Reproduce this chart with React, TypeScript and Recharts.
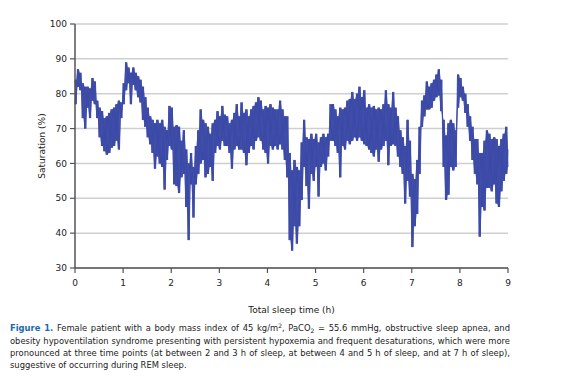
import React from 'react';
import { ComposedChart, Area, Line, XAxis, YAxis, CartesianGrid } from 'recharts';

// SpO2 trace: upper and lower edge of the noisy band every 0.05 h
const STEP = 0.05;

const SAT_HIGH = [
  // 0 h
  84, 87, 86, 83, 82, 82, 81.5, 84.5, 83.5, 78, 76, 75, 73, 73.5, 74.5, 75.5, 76, 77, 78, 77.5,
  // 1 h
  83, 89, 87.5, 86, 87.5, 86, 85, 84, 82, 79, 76, 73.5, 72.5, 71.5, 72.5, 71.5, 72.5, 70.5, 69.5, 76.5,
  // 2 h
  76, 70.5, 71, 70.5, 66.5, 69.5, 64, 60, 63, 59, 65, 69.5, 75.5, 72.5, 71.5, 70.5, 68.5, 71.5, 72.5, 75,
  // 3 h
  73.5, 76.5, 74, 73.5, 71.5, 72.5, 74.5, 77, 73.5, 77.5, 74.5, 75.5, 73.5, 75.5, 76.5, 77.5, 79, 78, 75.5, 76.5,
  // 4 h
  76, 77, 76, 75.5, 75.5, 78, 75.5, 73.5, 73.5, 63, 58, 61, 59, 58, 66, 72.5, 67.5, 67, 68.5, 67,
  // 5 h
  68.5, 66, 67.5, 68.5, 67.5, 68.5, 77, 77, 75.5, 73.5, 76, 75.5, 76, 78, 78.5, 80.5, 78.5, 80, 82, 79,
  // 6 h
  81, 76, 77, 76, 76.5, 75.5, 76, 75.5, 77, 81, 77, 76, 80.5, 76, 73.5, 69.5, 67.5, 65, 72.5, 66.5,
  // 7 h
  57, 55.5, 61, 70.5, 78, 79.5, 83.5, 82, 83, 84, 85.5, 87, 84, 72.5, 68, 71.5, 72.5, 71.5, 69.5, 85.5,
  // 8 h
  84.5, 82, 80, 77, 73.5, 70.5, 67, 67, 63, 63, 66.5, 69.5, 68.5, 67, 67.5, 67, 65, 67, 68.5, 70.5,
  // 9 h
  64,
];

const SAT_LOW = [
  // 0 h
  77, 82, 81, 73, 70, 76, 73, 78, 77, 73, 67.5, 65, 63.5, 62.5, 63, 64.5, 65, 66.5, 64, 73,
  // 1 h
  77, 81, 83, 77, 82.5, 81, 79, 77.5, 72.5, 70.5, 67.5, 65.5, 63, 58.5, 62, 60, 59, 52.5, 61, 65,
  // 2 h
  64, 54, 53.5, 51.5, 56, 57, 47.5, 38, 54, 44.5, 54, 57, 60, 61, 56, 57, 59, 55, 63, 65,
  // 3 h
  64, 66.5, 65, 65, 63, 58.5, 64, 65, 64, 64, 63, 59.5, 63, 65, 64, 66.5, 67.5, 66.5, 64, 63,
  // 4 h
  60, 65, 64, 65, 64, 65.5, 64, 61, 56, 38, 35, 42, 37, 42, 49.5, 59, 53.5, 47, 57, 55,
  // 5 h
  59, 50.5, 59, 60, 58, 62, 66.5, 66.5, 65, 63, 56, 65, 64, 66.5, 65.5, 66.5, 67.5, 66.5, 67.5, 66.5,
  // 6 h
  65.5, 65, 64, 63, 62, 64, 60.5, 64, 65, 66.5, 59.5, 65, 65.5, 65, 62, 59, 57, 48.5, 55, 50.5,
  // 7 h
  36, 42, 45.5, 57, 70.5, 73.5, 75.5, 75.5, 76, 78, 79, 79.5, 75, 59, 49.5, 51, 59, 58, 59, 76,
  // 8 h
  79, 78, 74.5, 70.5, 66.5, 61, 57, 54, 39, 47.5, 46.5, 53, 53, 52, 54, 48.5, 47.5, 52, 55, 57,
  // 9 h
  59,
];

const X_TICKS = [0, 1, 2, 3, 4, 5, 6, 7, 8, 9];
const Y_TICKS = [30, 40, 50, 60, 70, 80, 90, 100];

// two zig-zags in opposite phase between the upper and lower edge, over a filled band
const chartData = SAT_HIGH.flatMap((hi, i) => [
  { t: i * STEP, a: hi, b: SAT_LOW[i], band: [SAT_LOW[i], hi] },
  { t: i * STEP + STEP / 2, a: SAT_LOW[i], b: hi, band: [SAT_LOW[i], hi] },
]).filter((d) => d.t <= 9);

const FONT = '"DejaVu Sans", Verdana, sans-serif';
const tickStyle = { fontSize: 9, fill: '#222', fontFamily: FONT };
const TRACE = '#3a48a6';

const captionLine = {
  width: 500,
  textAlign: 'justify' as const,
  textAlignLast: 'justify' as const,
};

export default function App() {
  return (
    <div
      style={{
        position: 'absolute',
        left: 0,
        top: 0,
        width: 567,
        height: 379,
        background: '#fff',
        fontFamily: FONT,
        overflow: 'hidden',
      }}
    >
      <ComposedChart
        width={567}
        height={292}
        data={chartData}
        margin={{ top: 24, right: 59, bottom: 0, left: 0 }}
      >
        <CartesianGrid horizontal vertical={false} stroke="#cfcfcf" strokeWidth={1.5} />
        <XAxis
          dataKey="t"
          type="number"
          domain={[0, 9]}
          ticks={X_TICKS}
          interval={0}
          allowDecimals={false}
          height={24}
          tickSize={5}
          tickMargin={7}
          tick={tickStyle}
          axisLine={{ stroke: '#555', strokeWidth: 1.5 }}
          tickLine={{ stroke: '#555', strokeWidth: 1.2 }}
        />
        <YAxis
          type="number"
          domain={[30, 100]}
          ticks={Y_TICKS}
          interval={0}
          width={75}
          tickSize={5}
          tickMargin={3}
          tick={tickStyle}
          axisLine={{ stroke: '#555', strokeWidth: 1.5 }}
          tickLine={{ stroke: '#555', strokeWidth: 1.2 }}
          label={{
            value: 'Saturation (%)',
            angle: -90,
            position: 'insideLeft',
            offset: 42,
            style: { fontSize: 9, fill: '#222', fontFamily: FONT, textAnchor: 'middle' },
          }}
        />
        <Area
          type="linear"
          dataKey="band"
          stroke="none"
          fill={TRACE}
          fillOpacity={0.8}
          isAnimationActive={false}
        />
        <Line
          type="linear"
          dataKey="a"
          stroke={TRACE}
          strokeWidth={0.9}
          dot={false}
          isAnimationActive={false}
        />
        <Line
          type="linear"
          dataKey="b"
          stroke={TRACE}
          strokeWidth={0.9}
          dot={false}
          isAnimationActive={false}
        />
      </ComposedChart>

      <div
        style={{
          position: 'absolute',
          left: 75,
          width: 433,
          top: 305,
          textAlign: 'center',
          fontSize: 9,
          color: '#222',
        }}
      >
        Total sleep time (h)
      </div>

      <div
        style={{
          position: 'absolute',
          left: 10,
          top: 322,
          fontSize: 8.4,
          lineHeight: '12px',
          color: '#222',
          whiteSpace: 'nowrap',
        }}
      >
        <div style={captionLine}>
          <b style={{ color: '#2169aa' }}>Figure 1.</b> Female patient with a body mass index of 45 kg/m
          <span style={{ fontSize: 6, position: 'relative', top: -3 }}>2</span>, PaCO
          <span style={{ fontSize: 6, position: 'relative', top: 2 }}>2</span> = 55.6 mmHg, obstructive sleep apnea, and
        </div>
        <div style={captionLine}>
          obesity hypoventilation syndrome presenting with persistent hypoxemia and frequent desaturations, which were more
        </div>
        <div style={captionLine}>
          pronounced at three time points (at between 2 and 3 h of sleep, at between 4 and 5 h of sleep, and at 7 h of sleep),
        </div>
        <div>suggestive of occurring during REM sleep.</div>
      </div>
    </div>
  );
}
